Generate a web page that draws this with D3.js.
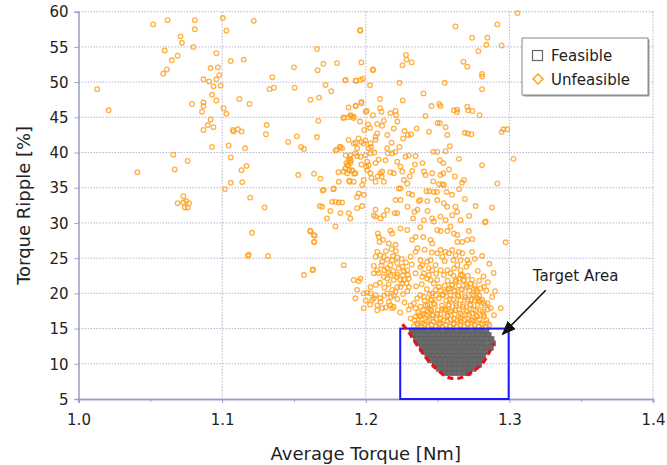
<!DOCTYPE html>
<html><head><meta charset="utf-8">
<script src="https://cdn.jsdelivr.net/npm/d3@7"></script>
<style>body{margin:0;background:#fff}svg{display:block}text{font-family:"DejaVu Sans",Verdana,sans-serif;fill:#222}</style>
</head><body>
<svg id="c" width="667" height="465"></svg>
<script>
const xTicks = [1.0, 1.1, 1.2, 1.3, 1.4];
const xMinorTicks = [1.05, 1.15, 1.25, 1.35];
const yTicks = [5, 10, 15, 20, 25, 30, 35, 40, 45, 50, 55, 60];
const legendLabels = ["Feasible", "Unfeasible"];
const targetRect = {x0: 1.224, x1: 1.2995, y0: 5, y1: 15};
const targetCurve = [[1.2256,15.6],[1.2312,14.1],[1.2381,11.95],[1.2465,9.8],[1.257,8.1],[1.2646,7.95],[1.273,8.7],[1.2814,10.1],[1.2856,11.5],[1.2891,12.9]];
const annotation = {text: "Target Area", tx: 1.3163, ty: 21.75, ax0: 1.3253, ay0: 20.45, ax1: 1.2953, ay1: 14.2};

// Feasible designs: rows of [torque ripple, [average torque values]]
const feasibleRows = [
 [14.7,[1.232,1.2355,1.239,1.2425,1.246,1.2495,1.253,1.2565,1.260,1.2635,1.267,1.2705,1.274,1.2775,1.281,1.284]],
 [14.1,[1.233,1.2365,1.240,1.2435,1.247,1.2505,1.254,1.2575,1.261,1.2645,1.268,1.2715,1.275,1.2785,1.282,1.2855]],
 [13.5,[1.235,1.2385,1.242,1.2455,1.249,1.2525,1.256,1.2595,1.263,1.2665,1.270,1.2735,1.277,1.2805,1.284,1.2875]],
 [12.9,[1.237,1.2405,1.244,1.2475,1.251,1.2545,1.258,1.2615,1.265,1.2685,1.272,1.2755,1.279,1.2825,1.2865,1.2885]],
 [12.3,[1.239,1.2425,1.246,1.2495,1.253,1.2565,1.260,1.2635,1.267,1.2705,1.274,1.2775,1.281,1.2845,1.287]],
 [11.7,[1.241,1.2445,1.248,1.2515,1.255,1.2585,1.262,1.2655,1.269,1.2725,1.276,1.2795,1.283]],
 [11.1,[1.243,1.2465,1.250,1.2535,1.257,1.2605,1.264,1.2675,1.271,1.2745,1.278,1.2815]],
 [10.5,[1.245,1.2485,1.252,1.2555,1.259,1.2625,1.266,1.2695,1.273,1.2765,1.280]],
 [9.9,[1.248,1.2515,1.255,1.2585,1.262,1.2655,1.269,1.2725,1.276,1.279]],
 [9.3,[1.251,1.2545,1.258,1.2615,1.265,1.2685,1.272,1.275]],
 [8.7,[1.255,1.2585,1.262,1.2655,1.269,1.2715]]
];

// Unfeasible designs: [average torque, torque ripple]
const unfeasible = [
[1.013,49.0],[1.021,46.0],[1.041,37.2],[1.052,58.2],[1.062,58.8],[1.060,54.5],[1.065,53.1],[1.069,53.75],[1.071,56.5],[1.072,55.6],[1.0615,51.8],[1.059,51.2],[1.081,58.8],[1.081,57.5],[1.080,55.0],[1.096,54.1],[1.092,52.0],[1.097,52.1],[1.098,51.0],[1.096,50.4],[1.091,50.1],[1.087,50.4],[1.094,49.4],[1.099,49.5],[1.093,48.2],[1.096,47.4],[1.079,46.9],[1.087,47.1],[1.087,46.6],[1.086,45.8],[1.092,44.7],[1.090,43.9],[1.094,43.6],[1.087,43.2],[1.093,40.8],[1.066,39.7],[1.076,38.8],[1.067,37.6],[1.073,33.8],[1.069,32.8],[1.075,33.1],[1.077,32.8],[1.074,32.2],[1.076,32.2],[1.073,32.9],
[1.1005,59.1],[1.103,57.3],[1.122,58.7],[1.106,53.0],[1.115,53.2],[1.101,46.3],[1.103,45.5],[1.112,47.6],[1.119,46.9],[1.1075,43.2],[1.108,43.0],[1.111,43.3],[1.1135,43.0],[1.1045,41.0],[1.116,40.6],[1.131,43.9],[1.1305,42.6],[1.135,50.7],[1.133,49.0],[1.136,49.2],[1.150,52.1],[1.1505,49.2],[1.146,41.5],[1.152,42.3],[1.155,40.8],[1.157,40.5],[1.106,39.3],[1.117,38.1],[1.1135,37.5],[1.106,35.7],[1.114,35.8],[1.102,34.8],[1.1195,33.6],[1.153,36.8],[1.164,37.0],[1.1685,36.3],[1.170,34.6],[1.1775,34.8],[1.181,37.2],[1.1885,36.0],[1.166,42.2],[1.167,44.5],[1.1615,47.5],[1.1675,47.8],[1.172,49.6],[1.176,48.7],[1.1665,51.7],[1.1705,52.6],[1.180,52.7],[1.166,54.7],[1.186,50.3],[1.193,50.2],[1.197,52.8],[1.196,57.3],[1.1962,57.4],[1.205,51.7],[1.179,40.3],[1.182,40.8],[1.188,45.0],[1.190,45.2],[1.1915,44.9],[1.1845,44.9],[1.188,46.4],[1.193,46.6],[1.197,47.0],[1.188,41.8],[1.195,42.0],[1.193,41.4],[1.186,39.6],[1.1895,38.9],[1.1865,38.5],[1.194,39.5],[1.1885,37.5],[1.192,37.0],[1.1905,37.4],[1.188,38.2],
[1.1296,32.2],[1.1208,28.6],[1.118,25.3],[1.1185,25.5],[1.132,25.3],[1.1615,28.8],[1.1645,28.2],[1.164,27.3],[1.163,23.3],[1.1632,23.4],[1.157,22.6],[1.168,32.4],
[1.2625,57.9],[1.2916,58.2],[1.3056,59.8],[1.274,56.3],[1.2847,56.3],[1.284,55.3],[1.2946,55.2],[1.2784,54.4],[1.228,53.85],[1.2284,53.2],[1.232,52.8],[1.2256,52.4],[1.268,52.9],[1.2707,52.2],[1.281,51.15],[1.281,50.8],[1.281,49.0],[1.205,51.8],[1.1856,50.25],[1.1933,50.2],[1.1965,50.3],[1.198,50.5],[1.203,49.55],[1.2235,49.9],[1.255,49.9],[1.210,47.6],[1.2258,47.4],[1.2402,48.4],[1.193,46.65],[1.197,47.2],[1.200,45.8],[1.2007,45.9],[1.205,45.3],[1.210,46.3],[1.211,45.8],[1.2207,45.9],[1.2212,45.3],[1.2172,45.6],[1.2458,46.6],[1.252,46.6],[1.2512,46.9],[1.2614,46.0],[1.2637,46.1],[1.2635,45.75],[1.2707,46.5],[1.2714,46.0],[1.2742,45.9],[1.2793,45.3],[1.2416,45.2],[1.1847,45.0],[1.1893,45.3],[1.1916,45.1],[1.2126,44.5],[1.2114,43.8],[1.2016,44.0],[1.208,44.05],[1.2195,43.4],[1.227,43.05],[1.2293,42.5],[1.2314,42.6],[1.2354,43.4],[1.244,42.95],[1.2516,44.15],[1.250,44.2],[1.2556,43.6],[1.2568,42.5],[1.269,42.8],[1.271,42.7],[1.2735,42.6],[1.296,43.3],[1.2986,43.3],[1.2946,42.9],[1.3028,39.1],[1.281,38.2],[1.2916,35.6],[1.288,32.2],[1.283,30.1],[1.2974,27.25],[1.267,35.7],[1.2684,36.1],[1.2556,40.2],[1.2586,40.9],[1.247,40.1],[1.2498,40.1],[1.2516,38.9],[1.254,38.5],[1.2649,39.1],[1.2395,38.5],[1.2405,37.3],[1.2416,36.8],[1.2463,37.05],[1.2521,36.8],[1.254,37.05],[1.251,35.5],[1.2533,35.5],[1.2544,35.4],[1.2495,34.4],[1.2563,34.4],[1.2498,33.25],[1.2544,32.8],[1.2567,32.3],[1.2625,32.3],[1.2637,31.6],[1.269,33.4],[1.2765,32.4],[1.2602,31.1],[1.2521,30.9],[1.2463,30.65],[1.2474,30.2],[1.2405,30.4],[1.233,30.65],[1.234,31.6],[1.236,31.9],[1.237,33.1],[1.238,33.25],[1.2428,33.1],[1.2423,34.5],[1.2442,34.5],[1.2474,34.4],[1.2323,34.0],[1.230,34.2],[1.2242,34.9],[1.223,34.9],[1.2289,35.6],[1.2265,36.1],[1.2307,36.6],[1.2323,37.4],[1.2254,37.3],[1.2242,38.0],[1.2219,38.7],[1.2184,39.9],[1.2207,40.1],[1.2235,40.8],[1.2277,39.4],[1.230,39.6],[1.2347,39.5],[1.2342,38.3],[1.2149,40.6],[1.2153,39.9],[1.2137,38.9],[1.2114,37.3],[1.2103,37.05],[1.2111,36.6],[1.2172,37.2],[1.2195,37.05],[1.2126,35.85],[1.2068,35.85],[1.2084,36.65],[1.2033,37.05],[1.201,37.5],[1.2003,38.0],[1.202,38.2],[1.201,38.7],[1.1998,39.6],[1.2033,39.9],[1.2068,38.5],[1.2038,40.8],[1.2021,40.6],[1.1986,41.3],[1.197,41.5],[1.1998,41.7],[1.2033,41.3],[1.2068,41.8],[1.2068,42.25],[1.208,42.7],[1.1916,41.3],[1.194,40.6],[1.1928,39.9],[1.1893,39.6],[1.1963,39.4],[1.1888,39.2],[1.1882,38.9],[1.1893,38.6],[1.187,38.2],[1.1858,37.75],[1.1847,37.3],[1.187,37.05],[1.1823,40.8],[1.1835,40.6],[1.18,40.4],[1.1905,37.5],[1.1928,37.05],[1.1916,35.85],[1.1986,36.1],[1.1975,35.4],[1.1986,34.0],[1.1951,34.2],[1.194,33.7],[1.1888,35.85],[1.1812,35.85],[1.1777,34.9],[1.1707,34.7],[1.1766,33.0],[1.1789,33.0],[1.1812,32.9],[1.1835,32.9],[1.1696,32.3],[1.1754,31.7],[1.1824,31.4],[1.1882,31.4],[1.1893,30.65],[1.194,32.1],[1.1975,32.4],[1.173,30.65],[1.1789,29.5],[1.1614,28.9],[1.1637,28.3],[1.1642,27.3],[1.2068,30.9],[1.2056,31.1],[1.2103,30.65],[1.2126,31.1],[1.2068,31.9],[1.2149,31.8],[1.2207,33.25],[1.2242,33.25],[1.2202,31.4],[1.2219,31.4],[1.2172,28.9],[1.2184,28.5],[1.2242,29.2],[1.2289,29.0],[1.2084,28.5],[1.2091,28.0],[1.2096,27.3],[1.2121,27.6],[1.2161,27.1],[1.2207,26.9],[1.2323,27.6],[1.2347,28.0],[1.24,28.0],[1.2451,27.6],[1.2463,27.1],[1.2498,29.0],[1.2521,28.85],[1.2568,28.85],[1.2614,28.5],[1.2637,28.3],[1.2672,27.3],[1.2707,27.6],[1.2742,27.7],[1.2637,27.3],[1.2718,28.85],[1.2556,30.4],[1.259,29.5],[1.266,30.4],
[1.1847,24.0],[1.2056,23.9],[1.208,23.3],[1.2114,24.5],[1.2126,25.2],[1.2149,23.55],[1.2172,24.0],[1.2184,24.7],[1.2219,24.3],[1.223,23.55],[1.2254,23.8],[1.2265,23.1],[1.2126,22.35],[1.2149,22.1],[1.2172,22.6],[1.2195,21.9],[1.2214,22.35],[1.2242,21.9],[1.2265,21.9],[1.2289,23.3],[1.2293,22.6],[1.23,22.1],[1.2284,21.4],[1.2219,20.9],[1.2242,20.9],[1.2254,21.4],[1.2184,20.5],[1.2207,20.2],[1.2195,19.75],[1.2177,19.5],[1.216,18.8],[1.2172,18.3],[1.2184,17.9],[1.2195,18.1],[1.2114,17.9],[1.2068,19.75],[1.2056,19.3],[1.2044,19.05],[1.2033,20.0],[1.201,20.1],[1.1986,20.0],[1.1951,21.75],[1.1963,22.1],[1.1928,19.3],[1.1986,17.9],[1.2033,20.9],[1.2056,22.85],[1.208,25.9],[1.2103,25.4],[1.2068,25.2],[1.2312,25.2],[1.2347,25.9],[1.2381,24.7],[1.2393,24.0],[1.2428,24.5],[1.2451,24.7],[1.2439,23.55],[1.2463,23.3],[1.2486,24.0],[1.2498,25.7],[1.2521,26.15],[1.2533,25.2],[1.2556,25.9],[1.2579,25.7],[1.2602,26.15],[1.2625,25.4],[1.2649,25.9],[1.2672,25.7],[1.2707,24.7],[1.2718,24.3],[1.266,24.7],[1.2637,24.0],[1.2614,23.55],[1.2568,23.3],[1.259,22.85],[1.2544,22.6],[1.2521,23.3],[1.2405,22.85],[1.2393,22.35],[1.2428,22.1],[1.2347,22.85],[1.2451,21.9],[1.2474,21.4],[1.2498,21.9],[1.2509,20.9],[1.2486,20.5],[1.2463,20.0],[1.2405,19.5],[1.2381,19.75],[1.2358,19.3],[1.2335,18.6],[1.2312,18.3],[1.2347,17.9],[1.2381,18.1],[1.2416,18.3],[1.2439,17.9],[1.2451,19.05],[1.2474,18.6],[1.2509,19.3],[1.2533,19.75],[1.2556,20.2],[1.2579,20.7],[1.2602,21.2],[1.2625,21.65],[1.2649,22.1],[1.2672,22.6],[1.2684,21.9],[1.2707,20.9],[1.273,21.4],[1.2753,20.7],[1.2777,20.2],[1.28,20.7],[1.2823,20.9],[1.2753,19.75],[1.2777,19.3],[1.2788,18.8],[1.2823,18.6],[1.2847,18.6],[1.287,17.9],[1.294,17.9],[1.2835,30.2],[1.2556,17.6],[1.259,17.4],[1.2625,17.6],[1.266,17.15],[1.2707,17.4],[1.2742,17.15],[1.2777,16.7],[1.2498,17.15],[1.2463,16.9],[1.2428,16.9],[1.2381,16.7],[1.2347,16.7],[1.2312,16.45],[1.2358,15.75],[1.2393,15.75],[1.2428,16.0],[1.2474,16.0],[1.2521,15.75],[1.2568,16.0],[1.2614,15.75],[1.266,16.0],[1.2707,15.75],[1.2753,16.0],[1.28,15.75],[1.2823,16.7],[1.2847,15.75],[1.2521,16.45],[1.2568,16.7],[1.2614,16.45],[1.266,16.45],[1.2707,16.45],[1.2742,16.2],[1.208,18.3],[1.2103,18.8],[1.1916,21.9],[1.194,20.5],[1.2893,16.9],
[1.2335,15.3],[1.2385,15.3],[1.2435,15.2],[1.2485,15.3],[1.2535,15.2],[1.2585,15.3],[1.2635,15.2],[1.2685,15.3],[1.2735,15.2],[1.2785,15.3],[1.2835,15.2],[1.2365,17.3],[1.2405,17.1],[1.2455,17.6],[1.2535,17.8],[1.2575,18.3],[1.2625,18.6],[1.2675,18.1],[1.2725,18.4],[1.2765,17.6],[1.2815,17.4],[1.2585,19.2],[1.2645,19.6],[1.2695,19.4],[1.2735,19.1],[1.2795,19.0],[1.2615,20.3],[1.2665,20.6],[1.2445,19.9],[1.2425,20.6],
[1.236,15.5],[1.241,15.6],[1.246,15.5],[1.251,15.6],[1.256,15.5],[1.261,15.6],[1.266,15.5],[1.271,15.6],[1.276,15.5],[1.281,15.6],[1.286,15.5],
[1.234,16.2],[1.239,16.3],[1.244,16.2],[1.249,16.3],[1.254,16.2],[1.259,16.3],[1.264,16.2],[1.269,16.3],[1.274,16.2],[1.279,16.3],[1.284,16.2],
[1.237,16.9],[1.242,17.0],[1.247,16.9],[1.252,17.0],[1.257,16.9],[1.262,17.0],[1.267,16.9],[1.272,17.0],[1.277,16.9],[1.282,17.0],
[1.240,17.6],[1.245,17.7],[1.250,17.6],[1.255,17.7],[1.260,17.6],[1.265,17.7],[1.270,17.6],[1.275,17.7],[1.280,17.6],[1.285,17.7],
[1.243,18.3],[1.248,18.4],[1.253,18.3],[1.258,18.4],[1.263,18.3],[1.268,18.4],[1.273,18.3],[1.278,18.4],[1.283,18.3],
[1.241,19.0],[1.246,19.1],[1.256,19.0],[1.261,19.1],[1.266,19.0],[1.271,19.1],[1.276,19.0],[1.281,19.1],
[1.249,19.7],[1.254,19.8],[1.259,19.7],[1.264,19.8],[1.269,19.7],[1.274,19.8],[1.279,19.7],
[1.252,20.4],[1.257,20.5],[1.262,20.4],[1.267,20.5],[1.272,20.4],[1.277,20.5],[1.284,20.4],
[1.255,21.1],[1.260,21.2],[1.265,21.1],[1.270,21.2],[1.276,21.1],[1.257,21.8],[1.263,21.9],[1.268,21.8],[1.274,21.9],[1.279,21.8],[1.261,22.5],[1.266,22.6],[1.271,22.5],
[1.207,21.2],[1.210,21.5],[1.213,20.8],[1.216,21.3],[1.209,22.9],[1.213,23.3],[1.216,22.9],[1.219,23.2],[1.222,22.7],[1.226,22.6],[1.211,24.0],[1.215,24.8],[1.219,25.3],[1.222,25.1],[1.225,24.9],[1.228,24.4],[1.214,26.0],[1.218,26.3],[1.221,26.0],[1.213,19.7],[1.210,19.3],[1.215,20.0],[1.222,19.2],[1.226,19.9],[1.229,20.3],[1.227,18.7],[1.230,17.7],[1.224,17.3],[1.214,18.0],[1.208,17.6],[1.203,18.4],[1.200,19.0],
[1.278,23.2],[1.282,22.4],[1.285,21.6],[1.276,24.9],[1.281,25.3],[1.286,24.2],[1.289,22.9],[1.290,20.3],[1.288,19.5],
[1.236,26.4],[1.241,26.2],[1.246,25.8],[1.238,23.7],[1.244,22.6],[1.249,22.8],[1.255,24.6],[1.261,24.7],[1.266,23.3],[1.270,23.8],[1.274,25.9],[1.232,24.1],[1.235,21.0],[1.239,21.3],[1.230,20.9],
[1.199,43.2],[1.203,43.5],[1.196,44.4],[1.206,40.0],[1.197,38.3],[1.204,36.4],[1.209,39.0],[1.215,42.5],[1.218,41.4],[1.226,42.0],[1.222,44.4],
[1.258,37.6],[1.262,36.6],[1.247,35.9],[1.260,34.0],[1.265,34.8],[1.272,31.0],[1.243,31.7],[1.229,32.3],[1.238,29.4]
];

const W = 667, H = 465;
const m = {left: 78.5, top: 11.7, right: 653, bottom: 399};
const svg = d3.select("#c");
const x = d3.scaleLinear().domain([1.0, 1.4]).range([m.left, m.right]);
const y = d3.scaleLinear().domain([5, 60]).range([m.bottom, m.top]);

const gridColor = "#b4b4d4";
const axisColor = "#9c9cc4";

// gridlines
svg.append("g").selectAll("line").data(yTicks.filter(d => d > 5)).join("line")
  .attr("x1", m.left).attr("x2", m.right).attr("y1", d => y(d)).attr("y2", d => y(d))
  .attr("stroke", gridColor).attr("stroke-width", 1).attr("stroke-dasharray", "1.5,1.5");
svg.append("g").selectAll("line").data(xTicks.filter(d => d > 1.0)).join("line")
  .attr("x1", d => x(d)).attr("x2", d => x(d)).attr("y1", m.top).attr("y2", m.bottom)
  .attr("stroke", gridColor).attr("stroke-width", 1).attr("stroke-dasharray", "1.5,1.5");

// axes
const xAxis = svg.append("g").attr("transform", `translate(0,${m.bottom})`)
  .call(d3.axisBottom(x).tickValues(xTicks).tickFormat(d3.format(".1f")).tickSize(4).tickPadding(8));
const xMinor = svg.append("g").attr("transform", `translate(0,${m.bottom})`)
  .call(d3.axisBottom(x).tickValues(xMinorTicks).tickFormat("").tickSize(3));
const yAxis = svg.append("g").attr("transform", `translate(${m.left},0)`)
  .call(d3.axisLeft(y).tickValues(yTicks).tickSize(4).tickPadding(6));
[xAxis, xMinor, yAxis].forEach(g => {
  g.select(".domain").attr("stroke", axisColor).attr("stroke-width", 1.5);
  g.selectAll(".tick line").attr("stroke", axisColor);
  g.selectAll("text").attr("font-size", 15).attr("fill", "#222").style("font-family", '"DejaVu Sans",Verdana,sans-serif');
});
xAxis.selectAll("text").attr("dy", "0.9em");
yAxis.selectAll("text").attr("dy", "0.35em");

// feasible points (grey squares)
const feasible = feasibleRows.flatMap(([yy, xs]) => xs.map(xx => [xx, yy]));
const sq = 5.2;
svg.append("g").selectAll("rect").data(feasible).join("rect")
  .attr("x", d => x(d[0]) - sq/2).attr("y", d => y(d[1]) - sq/2)
  .attr("width", sq).attr("height", sq)
  .attr("fill", "#6a6a6a").attr("stroke", "#5e5e5e").attr("stroke-width", 0.6);

// unfeasible points (orange)
svg.append("g").selectAll("circle").data(unfeasible).join("circle")
  .attr("cx", d => x(d[0])).attr("cy", d => y(d[1])).attr("r", 2.3)
  .attr("fill", "none").attr("stroke", "#ffa01c").attr("stroke-width", 1.3).attr("opacity", 0.82);

// target area rectangle
svg.append("rect")
  .attr("x", x(targetRect.x0)).attr("y", y(targetRect.y1))
  .attr("width", x(targetRect.x1) - x(targetRect.x0)).attr("height", y(targetRect.y0) - y(targetRect.y1))
  .attr("fill", "none").attr("stroke", "#1a1aff").attr("stroke-width", 2);

// red dashed curve
svg.append("path").datum(targetCurve)
  .attr("d", d3.line().x(d => x(d[0])).y(d => y(d[1])).curve(d3.curveCatmullRom))
  .attr("fill", "none").attr("stroke", "#e8101a").attr("stroke-width", 3.2).attr("stroke-dasharray", "6,4");

// annotation
svg.append("defs").append("marker").attr("id", "ah").attr("viewBox", "0 0 10 10")
  .attr("refX", 9).attr("refY", 5).attr("markerWidth", 9).attr("markerHeight", 9).attr("orient", "auto")
  .append("path").attr("d", "M0,1 L10,5 L0,9 z").attr("fill", "#111");
svg.append("line")
  .attr("x1", x(annotation.ax0)).attr("y1", y(annotation.ay0))
  .attr("x2", x(annotation.ax1)).attr("y2", y(annotation.ay1))
  .attr("stroke", "#111").attr("stroke-width", 1.6).attr("marker-end", "url(#ah)");
svg.append("text").attr("x", x(annotation.tx)).attr("y", y(annotation.ty))
  .attr("font-size", 15).text(annotation.text);

// axis titles
svg.append("text").attr("x", (m.left + m.right) / 2).attr("y", 460)
  .attr("text-anchor", "middle").attr("font-size", 18).text("Average Torque [Nm]");
svg.append("text").attr("transform", `translate(30,${(m.top + m.bottom) / 2}) rotate(-90)`)
  .attr("text-anchor", "middle").attr("font-size", 18).text("Torque Ripple [%]");

// legend
const lg = svg.append("g").attr("transform", "translate(522,38)");
lg.append("rect").attr("x", 1.5).attr("y", 1.5).attr("width", 126).attr("height", 57).attr("fill", "#999");
lg.append("rect").attr("width", 126).attr("height", 57).attr("fill", "#fff").attr("stroke", "#888").attr("stroke-width", 1);
lg.append("rect").attr("x", 10.5).attr("y", 12.5).attr("width", 10).attr("height", 10)
  .attr("fill", "none").attr("stroke", "#666").attr("stroke-width", 1.2);
lg.append("path").attr("d", "M16,36 L21,41 L16,46 L11,41 Z")
  .attr("fill", "none").attr("stroke", "#ffa01c").attr("stroke-width", 1.5);
lg.selectAll("text.l").data(legendLabels).join("text").attr("class", "l")
  .attr("x", 29).attr("y", (d, i) => 23 + i * 24).attr("font-size", 15).text(d => d);
</script>
</body></html>
